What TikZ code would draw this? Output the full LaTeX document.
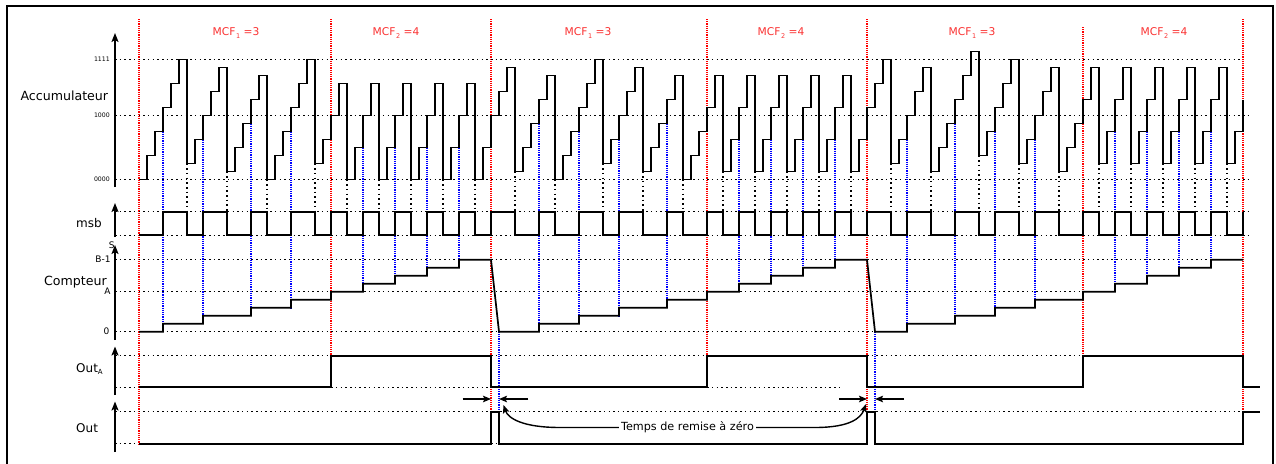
\documentclass[tikz,border=0pt]{standalone}
\usepackage{fontspec}
\setmainfont{DejaVu Sans}
\usetikzlibrary{arrows.meta}
\definecolor{myred}{RGB}{255,0,0}
\definecolor{myblue}{RGB}{0,0,255}
\definecolor{mcfred}{RGB}{250,50,50}
\newcommand\mcflab[2]{MCF\kern0.6pt\raisebox{-3.6pt}{\fontsize{6.5}{7}\selectfont #1}\kern3.5pt=#2}
\begin{document}
\begin{tikzpicture}[x=1pt,y=-1pt,
  sig/.style={line width=1.7pt, line join=miter, black},
  gline/.style={line width=1.5pt, dash pattern=on 1.5pt off 3.2pt, black},
  redl/.style={line width=1.3pt, dash pattern=on 1.2pt off 1pt, myred},
  bluel/.style={line width=1.3pt, dash pattern=on 1.2pt off 1pt, myblue},
  axarrow/.style={line width=1.6pt, -{Stealth[length=9pt,width=7pt,inset=2pt]}},
  bigl/.style={inner sep=0pt, anchor=base east, font=\fontsize{12.6}{14}\selectfont},
  sigl/.style={inner sep=0pt, anchor=base west, font=\fontsize{12}{14}\selectfont},
  ticklab/.style={inner sep=0pt, anchor=east, font=\fontsize{9}{10}\selectfont},
  tinylab/.style={inner sep=0pt, anchor=east, font=\fontsize{6.2}{7}\selectfont},
  mcf/.style={inner sep=0pt, anchor=base, text=mcfred, font=\fontsize{10.7}{12}\selectfont},
  harrow/.style={line width=1.4pt, -{Stealth[length=8pt,width=6.5pt,inset=1.5pt]}},
]
\useasboundingbox (0,0) rectangle (1276,463);
\draw[line width=2pt] (7,6) rectangle (1273,470);

% red segment boundaries
\draw[redl] (139,19) -- (139,443.7);
\draw[redl] (331,19) -- (331,355.7);
\draw[redl] (491,19) -- (491,411.7);
\draw[redl] (707,19) -- (707,355.7);
\draw[redl] (867,19) -- (867,411.7);
\draw[redl] (1083,27) -- (1083,355.7);
\draw[redl] (1243,19) -- (1243,411.7);

% MCF labels
\node[mcf] (m1) at (236,35) {\mcflab{1}{3}};
\node[mcf] (m2) at (396,35) {\mcflab{2}{4}};
\node[mcf] (m3) at (588,35) {\mcflab{1}{3}};
\node[mcf] (m4) at (781,35) {\mcflab{2}{4}};
\node[mcf] (m5) at (972,35) {\mcflab{1}{3}};
\node[mcf] (m6) at (1164,35) {\mcflab{2}{4}};

% horizontal reference lines
\draw[gline] (115,59.5) -- (1242,59.5);
\draw[gline] (115,115.5) -- (1250,115.5);
\draw[gline] (115,179.5) -- (1250,179.5);
\draw[gline] (115,211.7) -- (1250,211.7);
\draw[gline] (115,235.3) -- (1250,235.3);
\draw[gline] (115,259.7) -- (1243,259.7);
\draw[gline] (115,291.7) -- (1090,291.7);
\draw[gline] (115,331.7) -- (875,331.7);
\draw[gline] (115,355.7) -- (1100,355.7);
\draw[gline] (115,387.3) -- (843,387.3);
\draw[gline] (115,411.7) -- (1243,411.7);
\draw[gline] (115,443.7) -- (843,443.7);

% blue lines: msb rising edges -> counter
\foreach \x/\a/\c in {163/6/0,203/5/1,251/7/2,291/6/3,363/4/5,395/4/6,427/4/7,459/4/8,%
539/7/0,579/6/1,619/5/2,667/7/3,739/5/5,771/5/6,803/5/7,835/5/8,%
907/5/0,955/7/1,995/6/2,1035/5/3,1115/6/5,1147/6/6,1179/6/7,1211/6/8}
  \draw[bluel] (\x,{179.5-8*\a}) -- (\x,{331.7-8*\c});
\draw[bluel] (499,331.7) -- (499,411.7);
\draw[bluel] (875,331.7) -- (875,411.7);

% black lines: msb falling edges
\foreach \x/\a in {187/2,227/1,267/0,315/2,347/0,379/0,411/0,443/0,475/0,515/1,555/0,%
603/2,643/1,683/0,723/1,755/1,787/1,819/1,851/1,891/2,931/1,979/3,1019/2,1059/1,%
1099/2,1131/2,1163/2,1195/2,1227/2}
  \draw[gline] (\x,{179.5-8*\a}) -- (\x,211.7);

% axes
\node[ticklab] (sS) at (114.8,245.5) {S};
\draw[axarrow] (115,187) -- (115,33);
\draw[axarrow] (115,237) -- (115,203);
\draw[axarrow] (115,340) -- (115,245);
\draw[axarrow] (115,395) -- (115,346.5);
\draw[axarrow] (115,452) -- (115,401.5);

% axis labels
\node[tinylab] (t1111) at (110,59.5) {1111};
\node[tinylab] (t1000) at (110,115.5) {1000};
\node[tinylab] (t0000) at (110,179.5) {0000};
\node[ticklab] (tB) at (110.7,259.7) {B-1};
\node[ticklab] (tA) at (110.7,291.7) {A};
\node[ticklab] (t0) at (109.5,331.7) {0};

\node[bigl] (accl) at (108.3,100) {Accumulateur};
\node[bigl] (cptl) at (107,285) {Compteur};
\node[sigl] (msbl) at (76,227.7) {msb};
\node[sigl] (outal) at (76,372.3) {Out\raisebox{-2.5pt}{\fontsize{7}{8}\selectfont A}};
\node[sigl] (outl) at (76,432.3) {Out};

% accumulator
\begin{scope}[shift={(0,179.5)}, y=8pt]
\draw[sig] (139,0) foreach \v [count=\k, remember=\v as \pv (initially 0)] in {%
3,6,9,12,15,2,5,8,11,14,1,4,7,10,13,0,3,6,9,12,15,2,5,8,%
12,0,4,8,12,0,4,8,12,0,4,8,12,0,4,8,12,0,4,8,%
11,14,1,4,7,10,13,0,3,6,9,12,15,2,5,8,11,14,1,4,7,10,13,0,3,6,9,%
13,1,5,9,13,1,5,9,13,1,5,9,13,1,5,9,13,1,5,9,%
12,15,2,5,8,11,14,1,4,7,10,13,16,3,6,9,12,15,2,5,8,11,14,1,4,7,10,%
14,2,6,10,14,2,6,10,14,2,6,10,14,2,6,10,14,2,6,10%
} { -- ({139+8*\k},\pv) -- ({139+8*\k},\v) };
\end{scope}

% msb
\draw[sig] (139,235.3) foreach \a/\b in {163/187,203/227,251/267,291/315,331/347,363/379,%
395/411,427/443,459/475,491/515,539/555,579/603,619/643,667/683,707/723,739/755,%
771/787,803/819,835/851,867/891,907/931,955/979,995/1019,1035/1059,1083/1099,%
1115/1131,1147/1163,1179/1195,1211/1227}
  { -- (\a,235.3) -- (\a,211.7) -- (\b,211.7) -- (\b,235.3) } -- (1243,235.3) -- (1243,211.7);

% counter
\draw[sig] (139,331.7)
  foreach \x/\c in {163/1,203/2,251/3,291/4,331/5,363/6,395/7,427/8,459/9}
    { -- (\x,{331.7-8*(\c-1)}) -- (\x,{331.7-8*\c}) }
  -- (491,259.7) -- (499,331.7)
  foreach \x/\c in {539/1,579/2,619/3,667/4,707/5,739/6,771/7,803/8,835/9}
    { -- (\x,{331.7-8*(\c-1)}) -- (\x,{331.7-8*\c}) }
  -- (867,259.7) -- (875,331.7)
  foreach \x/\c in {907/1,955/2,995/3,1035/4,1083/5,1115/6,1147/7,1179/8,1211/9}
    { -- (\x,{331.7-8*(\c-1)}) -- (\x,{331.7-8*\c}) }
  -- (1243,259.7);

% Out_A
\draw[sig] (139,387.3) -- (331,387.3) -- (331,355.7) -- (491,355.7) -- (491,387.3)
  -- (707,387.3) -- (707,355.7) -- (867,355.7) -- (867,387.3) -- (1083,387.3)
  -- (1083,355.7) -- (1243,355.7) -- (1243,387.3) -- (1260,387.3);

% Out
\draw[sig] (139,443.7) -- (491,443.7) -- (491,411.7) -- (499,411.7) -- (499,443.7)
  -- (867,443.7) -- (867,411.7) -- (875,411.7) -- (875,443.7) -- (1243,443.7)
  -- (1243,411.7) -- (1260,411.7);

% reset time annotation
\coordinate (a1s) at (462.7,399);
\coordinate (a1e) at (491,399);
\coordinate (a2s) at (528.3,399);
\coordinate (a2e) at (499,399);
\coordinate (a3s) at (839,399);
\coordinate (a3e) at (867,399);
\coordinate (a4s) at (904,399);
\coordinate (a4e) at (875,399);
\draw[harrow] (a1s) -- (a1e);
\draw[harrow] (a2s) -- (a2e);
\draw[harrow] (a3s) -- (a3e);
\draw[harrow] (a4s) -- (a4e);

\node[inner sep=2pt, font=\fontsize{11.2}{13}\selectfont] (reset) at (687.5,427.5) {Temps de remise à zéro};
\coordinate (c1) at (503.5,405);
\coordinate (c2) at (866,404);
\draw[harrow] (reset.west) -- (560,427.5) .. controls (522,427.5) and (508,418) .. (c1);
\draw[harrow] (reset.east) -- (815,427.5) .. controls (850,427.5) and (861,418) .. (c2);
\end{tikzpicture}
\end{document}
